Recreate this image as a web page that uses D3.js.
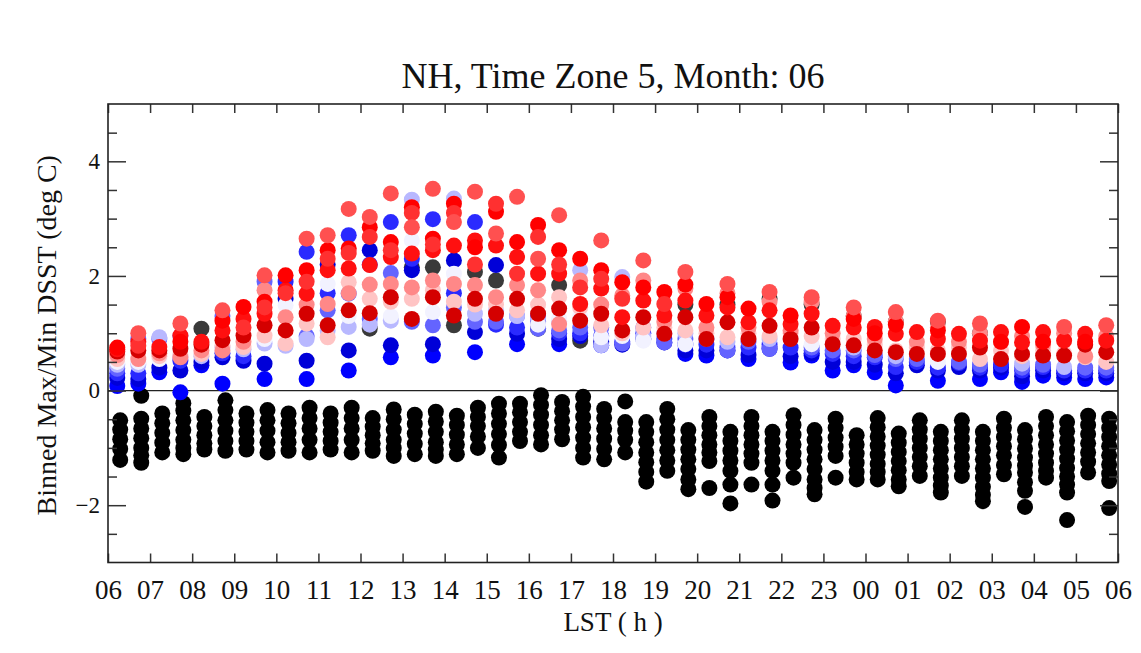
<!DOCTYPE html>
<html>
<head>
<meta charset="utf-8">
<script src="https://cdn.jsdelivr.net/npm/d3@7"></script>
<style>
  body { margin: 0; background: #fff; }
  svg text { font-family: "Liberation Serif", "Times New Roman", serif; fill: #111; }
</style>
</head>
<body>
<svg id="chart" width="1141" height="653"></svg>
<script>
// hour labels along LST axis
const hourLabels = ['06','07','08','09','10','11','12','13','14','15','16','17','18',
                    '19','20','21','22','23','00','01','02','03','04','05','06'];

// binned maxima, one array per colour series, 48 half-hour bins (null = no point)
const grayMax = [null,null,null,null,1.08,null,null,null,null,null,null,null,1.08,null,2.15,2.15,1.14,2.07,1.92,null,1.08,1.84,0.87,null,
                 null,null,null,1.50,null,1.50,null,1.60,null,1.50,null,1.30,null,1.20,null,1.20,null,1.00,null,null,null,null,null,null];
const blueA = [0.08,0.12,0.32,-0.03,0.44,0.12,null,0.20,null,0.20,null,0.35,null,0.58,null,0.61,null,0.67,null,0.81,null,0.81,null,0.79,
               null,null,null,0.64,0.61,null,0.55,null,0.49,0.61,0.35,0.44,0.32,0.09,null,0.17,null,0.20,0.32,0.15,0.26,0.23,0.20,0.23];
const blueB = [0.22,0.20,0.40,0.35,0.50,0.58,0.52,0.47,1.60,0.52,2.20,0.70,2.45,0.79,2.10,0.81,2.27,1.02,2.19,0.99,1.20,0.90,0.95,0.85,
               0.80,0.90,0.84,0.70,0.70,0.70,0.62,0.73,0.60,0.65,0.50,0.50,0.45,0.30,0.44,0.35,0.41,0.35,0.40,0.25,0.35,0.30,0.30,0.30];
const blueC = [0.30,0.30,null,0.52,null,0.65,0.60,null,1.90,2.42,1.70,2.71,2.20,2.94,2.30,2.99,1.70,2.94,1.15,1.10,1.30,1.00,1.00,0.95,
               0.85,1.00,0.90,0.80,0.80,0.75,0.75,0.80,0.75,0.70,0.64,0.60,0.58,0.41,0.50,0.40,0.48,0.40,0.45,0.35,0.41,0.35,0.35,0.35];
const blueD = [0.38,0.90,0.90,0.95,null,1.30,null,1.90,null,0.95,1.40,1.69,1.25,2.05,1.20,1.14,1.45,1.20,1.20,1.30,1.08,1.05,1.10,1.10,
               0.82,1.10,0.84,0.90,0.90,0.70,0.85,0.73,null,0.75,0.70,0.70,0.62,0.55,0.55,null,0.50,0.45,null,0.40,0.45,null,0.40,0.40];
const blueE = [0.45,0.45,0.93,0.60,0.60,0.75,0.72,0.82,0.78,0.90,1.05,1.11,1.15,1.22,3.33,null,3.35,1.34,1.40,1.30,1.25,1.20,2.10,0.79,
               1.98,0.95,1.00,1.00,null,0.85,null,0.90,null,null,null,0.75,null,0.60,null,null,null,null,null,0.47,null,0.41,null,null];
const whiteF = [0.50,0.50,0.55,null,null,null,null,0.90,1.49,null,1.86,1.30,null,1.30,2.62,1.37,2.04,null,1.60,null,1.15,1.25,1.30,0.93,
                0.95,0.87,null,0.81,null,null,null,null,null,0.81,null,null,null,null,null,0.50,null,null,null,null,null,null,null,null];
const pinkG = [0.55,0.58,0.60,0.62,0.64,0.78,0.76,0.96,0.82,1.17,0.93,1.89,1.60,1.55,1.60,1.75,1.55,1.50,1.50,1.40,1.50,1.63,1.45,1.14,
               1.00,1.10,1.10,1.05,1.00,0.93,1.00,0.95,1.00,0.95,0.90,0.90,0.80,0.70,0.75,0.70,0.75,0.55,0.70,0.60,0.70,0.65,0.58,0.50];
const salmonH = [0.62,0.55,0.65,0.58,0.70,0.70,0.85,1.75,1.28,1.50,1.51,1.70,1.85,1.86,1.80,1.92,1.86,1.84,1.63,1.84,1.75,1.16,1.92,1.50,
                 1.66,1.92,1.20,1.78,1.10,1.70,1.10,1.55,1.05,1.55,1.00,1.30,0.90,1.20,0.85,1.10,0.85,1.00,0.85,0.95,0.80,1.00,0.60,0.95];
const darkRedI = [0.68,0.70,0.70,0.73,0.80,0.88,0.96,1.14,1.05,1.34,1.14,1.40,1.35,1.63,1.25,1.63,1.31,1.60,1.34,1.60,1.34,1.43,1.22,1.34,
                  1.05,1.28,0.99,1.28,0.90,1.19,0.90,1.13,0.90,1.10,0.81,0.79,0.70,0.67,0.64,0.64,0.64,0.75,0.55,0.64,0.61,0.61,0.80,0.67];
const redJ = [0.72,0.85,0.76,0.96,0.85,1.05,1.25,1.34,1.75,1.69,2.10,2.13,2.19,2.33,2.39,2.45,2.53,2.62,2.53,2.33,2.04,2.04,1.51,1.78,
              1.28,1.57,1.31,1.57,1.31,1.45,1.19,1.40,1.16,1.34,1.13,1.10,1.11,0.99,1.02,0.90,0.99,0.87,1.02,0.84,1.02,0.87,0.99,0.87];
const redK = [0.75,null,null,0.85,null,1.22,1.46,1.55,2.01,2.10,2.45,2.48,2.85,2.59,3.20,2.65,3.26,2.50,3.12,2.59,2.89,2.45,2.30,2.10,
              1.89,1.80,1.72,1.85,1.51,1.63,1.43,null,1.31,null,null,1.25,1.00,1.15,null,1.05,null,null,0.85,1.11,0.85,null,0.85,null];
const redL = [null,0.78,null,null,null,null,1.10,1.45,1.70,1.90,2.30,2.40,2.68,2.45,3.10,2.55,3.10,2.20,3.26,2.04,2.68,2.20,1.80,1.95,
              1.60,null,1.51,null,null,null,null,null,null,null,null,null,null,null,null,null,null,null,null,null,null,null,null,null];
const topM = [null,1.00,null,1.17,null,1.40,null,2.01,null,2.65,2.71,3.17,3.03,3.44,2.85,3.52,2.94,3.47,2.74,3.38,2.30,3.06,null,2.62,
              null,2.27,null,2.07,null,1.86,null,1.72,null,1.63,null,1.45,null,1.37,null,1.22,null,1.17,null,null,null,1.11,null,1.14];

// binned minima, one list per half-hour bin
const minBins = [
  [-0.52,-0.68,-0.85,-1.02,-1.21],
  [-0.09,-0.49,-0.66,-0.83,-1.00,-1.13,-1.26],
  [-0.40,-0.57,-0.74,-0.91,-1.08],
  [-0.22,-0.35,-0.52,-0.69,-0.86,-1.00,-1.11],
  [-0.46,-0.62,-0.78,-0.92,-1.03],
  [-0.17,-0.34,-0.52,-0.70,-0.88,-1.05],
  [-0.40,-0.56,-0.72,-0.88,-1.03],
  [-0.34,-0.52,-0.70,-0.90,-1.08],
  [-0.40,-0.57,-0.74,-0.90,-1.05],
  [-0.30,-0.48,-0.66,-0.86,-1.08],
  [-0.40,-0.56,-0.72,-0.88,-1.03],
  [-0.30,-0.48,-0.66,-0.86,-1.08],
  [-0.48,-0.63,-0.78,-0.92,-1.05],
  [-0.33,-0.50,-0.68,-0.86,-1.00,-1.14],
  [-0.42,-0.58,-0.75,-0.93,-1.11],
  [-0.37,-0.54,-0.72,-0.90,-1.03,-1.14],
  [-0.44,-0.60,-0.77,-0.94,-1.11],
  [-0.30,-0.46,-0.62,-0.80,-1.00],
  [-0.23,-0.40,-0.58,-0.76,-0.95,-1.17],
  [-0.23,-0.38,-0.55,-0.72,-0.88],
  [-0.08,-0.25,-0.42,-0.60,-0.78,-0.94],
  [-0.20,-0.36,-0.52,-0.68,-0.85],
  [-0.11,-0.28,-0.46,-0.64,-0.82,-1.00,-1.17],
  [-0.32,-0.48,-0.66,-0.84,-1.02,-1.20],
  [-0.19,-0.55,-0.70,-0.86,-1.08],
  [-0.55,-0.72,-0.90,-1.08,-1.25,-1.42,-1.59],
  [-0.32,-0.50,-0.68,-0.86,-1.04,-1.22,-1.40],
  [-0.69,-0.86,-1.03,-1.20,-1.37,-1.55,-1.72],
  [-0.46,-0.62,-0.78,-0.94,-1.08,-1.23,-1.70],
  [-0.72,-0.88,-1.05,-1.22,-1.40,-1.64,-1.97],
  [-0.46,-0.62,-0.78,-0.94,-1.10,-1.26,-1.64],
  [-0.72,-0.88,-1.05,-1.22,-1.40,-1.64,-1.92],
  [-0.43,-0.60,-0.77,-0.94,-1.10,-1.26,-1.52],
  [-0.69,-0.86,-1.03,-1.20,-1.37,-1.55,-1.70,-1.81],
  [-0.49,-0.65,-0.82,-0.98,-1.14,-1.52],
  [-0.78,-0.94,-1.10,-1.26,-1.42,-1.55],
  [-0.48,-0.64,-0.80,-0.96,-1.12,-1.28,-1.42,-1.55],
  [-0.75,-0.91,-1.07,-1.23,-1.39,-1.55,-1.67],
  [-0.52,-0.68,-0.84,-1.00,-1.16,-1.32,-1.49],
  [-0.72,-0.88,-1.04,-1.20,-1.36,-1.52,-1.66,-1.78],
  [-0.52,-0.68,-0.84,-1.00,-1.16,-1.32,-1.49],
  [-0.72,-0.88,-1.04,-1.20,-1.36,-1.52,-1.68,-1.82,-1.93],
  [-0.49,-0.65,-0.81,-0.97,-1.13,-1.30,-1.46],
  [-0.69,-0.85,-1.01,-1.17,-1.31,-1.43,-1.60,-1.75,-2.03],
  [-0.46,-0.62,-0.78,-0.94,-1.10,-1.26,-1.40,-1.52],
  [-0.55,-0.71,-0.87,-1.03,-1.19,-1.35,-1.50,-1.64,-1.78,-2.26],
  [-0.44,-0.60,-0.76,-0.92,-1.08,-1.24,-1.43],
  [-0.49,-0.65,-0.81,-0.97,-1.13,-1.29,-1.45,-1.58,-2.05]
];

// drawing order bottom -> top, with colours
const series = [
  { values: grayMax,  color: '#3a3a3a' },
  { values: blueA,    color: '#0000ff' },
  { values: blueB,    color: '#0000d8' },
  { values: blueC,    color: '#2a2aff' },
  { values: blueD,    color: '#6464ff' },
  { values: blueE,    color: '#b8b8ff' },
  { values: whiteF,   color: '#f2f2ff' },
  { values: pinkG,    color: '#ffc4c4' },
  { values: salmonH,  color: '#ff8888' },
  { values: darkRedI, color: '#d40000' },
  { values: redJ,     color: '#ff1010' },
  { values: redK,     color: '#ff0000' },
  { values: redL,     color: '#ff3030' },
  { values: topM,     color: '#ff5050' }
];

const svg = d3.select('#chart');
const plotLeft = 108, plotRight = 1118, plotTop = 104, plotBottom = 562.5;
const r = 8;

const x = d3.scaleLinear().domain([0, 24]).range([plotLeft, plotRight]);
const y = d3.scaleLinear().domain([-3, 5]).range([plotBottom, plotTop]);

const binStart = d3.range(0, 24, 0.5);
const maxOffset = 0.22, minOffset = 0.29;

// zero line
svg.append('line')
  .attr('x1', plotLeft).attr('x2', plotRight)
  .attr('y1', y(0)).attr('y2', y(0))
  .attr('stroke', '#222').attr('stroke-width', 1.3);

// minima (black)
const minPts = [];
minBins.forEach((vals, i) => vals.forEach(v => minPts.push({ h: binStart[i] + minOffset, v })));
svg.append('g').selectAll('circle')
  .data(minPts).join('circle')
  .attr('cx', d => x(d.h)).attr('cy', d => y(d.v))
  .attr('r', r).attr('fill', '#000');

// maxima (coloured)
series.forEach(s => {
  const pts = [];
  s.values.forEach((v, i) => { if (v !== null) pts.push({ h: binStart[i] + maxOffset, v }); });
  svg.append('g').selectAll('circle')
    .data(pts).join('circle')
    .attr('cx', d => x(d.h)).attr('cy', d => y(d.v))
    .attr('r', r).attr('fill', s.color);
});

// axes
const majorY = [-2, 0, 2, 4];
const minorY = d3.range(-2.5, 5, 0.5).filter(v => !majorY.includes(v));

function styleAxis(g) {
  g.select('.domain').remove();
  g.selectAll('line').attr('stroke', '#333').attr('stroke-width', 1.5);
}

svg.append('g').attr('transform', `translate(${plotLeft},0)`)
  .call(d3.axisLeft(y).tickValues(majorY).tickSize(-18).tickPadding(8).tickFormat(d3.format('d')))
  .call(styleAxis)
  .selectAll('text').style('font-size', '23px');
svg.append('g').attr('transform', `translate(${plotLeft},0)`)
  .call(d3.axisLeft(y).tickValues(minorY).tickSize(-9).tickFormat(''))
  .call(styleAxis);
svg.append('g').attr('transform', `translate(${plotRight},0)`)
  .call(d3.axisRight(y).tickValues(majorY).tickSize(-18).tickFormat(''))
  .call(styleAxis);
svg.append('g').attr('transform', `translate(${plotRight},0)`)
  .call(d3.axisRight(y).tickValues(minorY).tickSize(-9).tickFormat(''))
  .call(styleAxis);

const hourTicks = d3.range(0, 25);
svg.append('g').attr('transform', `translate(0,${plotBottom})`)
  .call(d3.axisBottom(x).tickValues(hourTicks).tickSize(-9).tickPadding(17)
    .tickFormat((d, i) => hourLabels[i]))
  .call(styleAxis)
  .selectAll('text').style('font-size', '27px');
svg.append('g').attr('transform', `translate(0,${plotTop})`)
  .call(d3.axisTop(x).tickValues(hourTicks).tickSize(-9).tickFormat(''))
  .call(styleAxis);

// frame
svg.append('rect')
  .attr('x', plotLeft).attr('y', plotTop)
  .attr('width', plotRight - plotLeft).attr('height', plotBottom - plotTop)
  .attr('fill', 'none').attr('stroke', '#222').attr('stroke-width', 1.6);

// titles
svg.append('text')
  .attr('x', (plotLeft + plotRight) / 2).attr('y', 88)
  .attr('text-anchor', 'middle').style('font-size', '36px')
  .text('NH, Time Zone 5, Month: 06');

svg.append('text')
  .attr('x', (plotLeft + plotRight) / 2).attr('y', 631)
  .attr('text-anchor', 'middle').style('font-size', '27px')
  .text('LST ( h )');

svg.append('text')
  .attr('transform', `translate(56,${(plotTop + plotBottom) / 2 + 2}) rotate(-90)`)
  .attr('text-anchor', 'middle').style('font-size', '28px')
  .text('Binned Max/Min DSST (deg C)');
</script>
</body>
</html>
